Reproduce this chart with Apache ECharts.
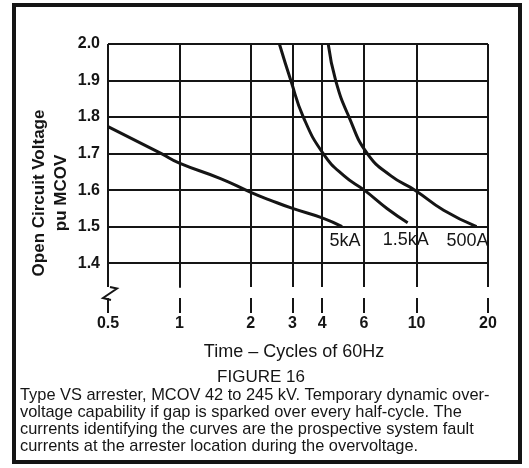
<!DOCTYPE html>
<html>
<head>
<meta charset="utf-8">
<script src="https://cdn.jsdelivr.net/npm/echarts@6/dist/echarts.min.js"></script>
<style>
html,body{margin:0;padding:0;background:#fff;}
#c{width:529px;height:468px;}
</style>
</head>
<body>
<div id="c"></div>
<script>
// ---- data ----
const xTicks = [0.5, 1, 2, 3, 4, 6, 10, 20];
const xTickLabels = ['0.5', '1', '2', '3', '4', '6', '10', '20'];
const yTicks = [1.4, 1.5, 1.6, 1.7, 1.8, 1.9, 2.0];
const yTickLabels = ['1.4', '1.5', '1.6', '1.7', '1.8', '1.9', '2.0'];
const seriesNames = ['5kA', '1.5kA', '500A'];
const t5kA = [0.5, 0.84, 1, 1.5, 2, 2.41, 3, 4, 4.85];
const v5kA = [1.774, 1.70, 1.674, 1.631, 1.594, 1.573, 1.550, 1.524, 1.50];
const t1500A = [2.64, 2.95, 3.33, 4.04, 4.95, 6.02, 7.5, 9.17];
const v1500A = [2.0, 1.9, 1.8, 1.7, 1.639, 1.6, 1.550, 1.511];
const t500A = [4.24, 4.56, 5.19, 6.2, 7.8, 9.84, 13, 17.9];
const v500A = [2.0, 1.9, 1.8, 1.7, 1.639, 1.6, 1.545, 1.50];
const xName = 'Time – Cycles of 60Hz';
const yName1 = 'Open Circuit Voltage';
const yName2 = 'pu MCOV';
const figTitle = 'FIGURE 16';
const captionLines = [
  'Type VS arrester, MCOV 42 to 245 kV. Temporary dynamic over-',
  'voltage capability if gap is sparked over every half-cycle. The',
  'currents identifying the curves are the prospective system fault',
  'currents at the arrester location during the overvoltage.'
];

// ---- build ----
const L = Math.log10;
const INK = '#151515';
function pts(ts, vs) { return ts.map((t, i) => [L(t), vs[i]]); }
const allT = [t5kA, t1500A, t500A];
const allV = [v5kA, v1500A, v500A];
const labelOffsets = [[3, 14], [-2, 17], [-9, 14]];

const series = seriesNames.map((name, i) => {
  const d = pts(allT[i], allV[i]);
  const last = d[d.length - 1];
  return {
    type: 'line', name: name, data: d,
    smooth: 0.5,
    showSymbol: false, symbol: 'none',
    lineStyle: { color: INK, width: 3 },
    silent: true,
    markPoint: {
      symbol: 'circle', symbolSize: 0, silent: true,
      itemStyle: { color: 'rgba(0,0,0,0)' },
      label: {
        show: true, position: 'inside', formatter: name,
        color: INK, fontSize: 18, fontFamily: 'Liberation Sans',
        offset: labelOffsets[i]
      },
      data: [{ coord: last }]
    }
  };
});

const chart = echarts.init(document.getElementById('c'), null, { renderer: 'canvas' });
chart.setOption({
  animation: false,
  backgroundColor: '#ffffff',
  grid: { left: 108, top: 44, width: 380, height: 243, containLabel: false },
  xAxis: {
    type: 'value', min: L(0.5), max: L(20),
    offset: 11,
    axisLine: { show: false },
    axisTick: { show: true, length: 15, inside: false, customValues: xTicks.map(L),
      lineStyle: { color: INK, width: 2 } },
    axisLabel: {
      customValues: xTicks.map(L), margin: 18,
      fontSize: 16, fontWeight: 'bold', color: INK, fontFamily: 'Liberation Sans',
      formatter: function (v) {
        let best = 0, bd = 1e9;
        xTicks.forEach((t, i) => { const dd = Math.abs(L(t) - v); if (dd < bd) { bd = dd; best = i; } });
        return xTickLabels[best];
      }
    },
    splitLine: { show: true, lineStyle: { color: INK, width: 2 } }
  },
  yAxis: {
    type: 'value', min: 1.335, max: 2.0,
    axisLine: { show: true, lineStyle: { color: INK, width: 2 } },
    axisTick: { show: false, customValues: yTicks },
    axisLabel: {
      customValues: yTicks, margin: 8,
      fontSize: 16, fontWeight: 'bold', color: INK, fontFamily: 'Liberation Sans',
      formatter: function (v) {
        let best = 0, bd = 1e9;
        yTicks.forEach((t, i) => { const dd = Math.abs(t - v); if (dd < bd) { bd = dd; best = i; } });
        return yTickLabels[best];
      }
    },
    splitLine: { show: true, lineStyle: { color: INK, width: 2 } }
  },
  series: series,
  graphic: [
    { type: 'rect', shape: { x: 14, y: 5, width: 506, height: 457 },
      style: { fill: 'none', stroke: INK, lineWidth: 4 }, silent: true },
    { type: 'polyline', shape: { points: [[110, 287], [117, 288.5], [103, 298], [111, 300]] },
      style: { fill: 'none', stroke: INK, lineWidth: 2 }, silent: true },
    { type: 'text', x: 39, y: 193, rotation: Math.PI / 2,
      style: { text: yName1, fontSize: 17, fontWeight: 'bold', fontFamily: 'Liberation Sans',
        fill: INK, align: 'center', verticalAlign: 'middle' } },
    { type: 'text', x: 61, y: 193, rotation: Math.PI / 2,
      style: { text: yName2, fontSize: 17, fontWeight: 'bold', fontFamily: 'Liberation Sans',
        fill: INK, align: 'center', verticalAlign: 'middle' } },
    { type: 'text', x: 294, y: 352,
      style: { text: xName, fontSize: 18, fontFamily: 'Liberation Sans',
        fill: INK, align: 'center', verticalAlign: 'middle' } },
    { type: 'text', x: 261, y: 377,
      style: { text: figTitle, fontSize: 17, fontFamily: 'Liberation Sans',
        fill: INK, align: 'center', verticalAlign: 'middle' } }
  ].concat(captionLines.map((s, i) => ({
    type: 'text', x: 20, y: 395 + i * 17,
    style: { text: s, fontSize: 16.4, fontFamily: 'Liberation Sans',
      fill: INK, align: 'left', verticalAlign: 'middle' }
  })))
});
</script>
</body>
</html>
